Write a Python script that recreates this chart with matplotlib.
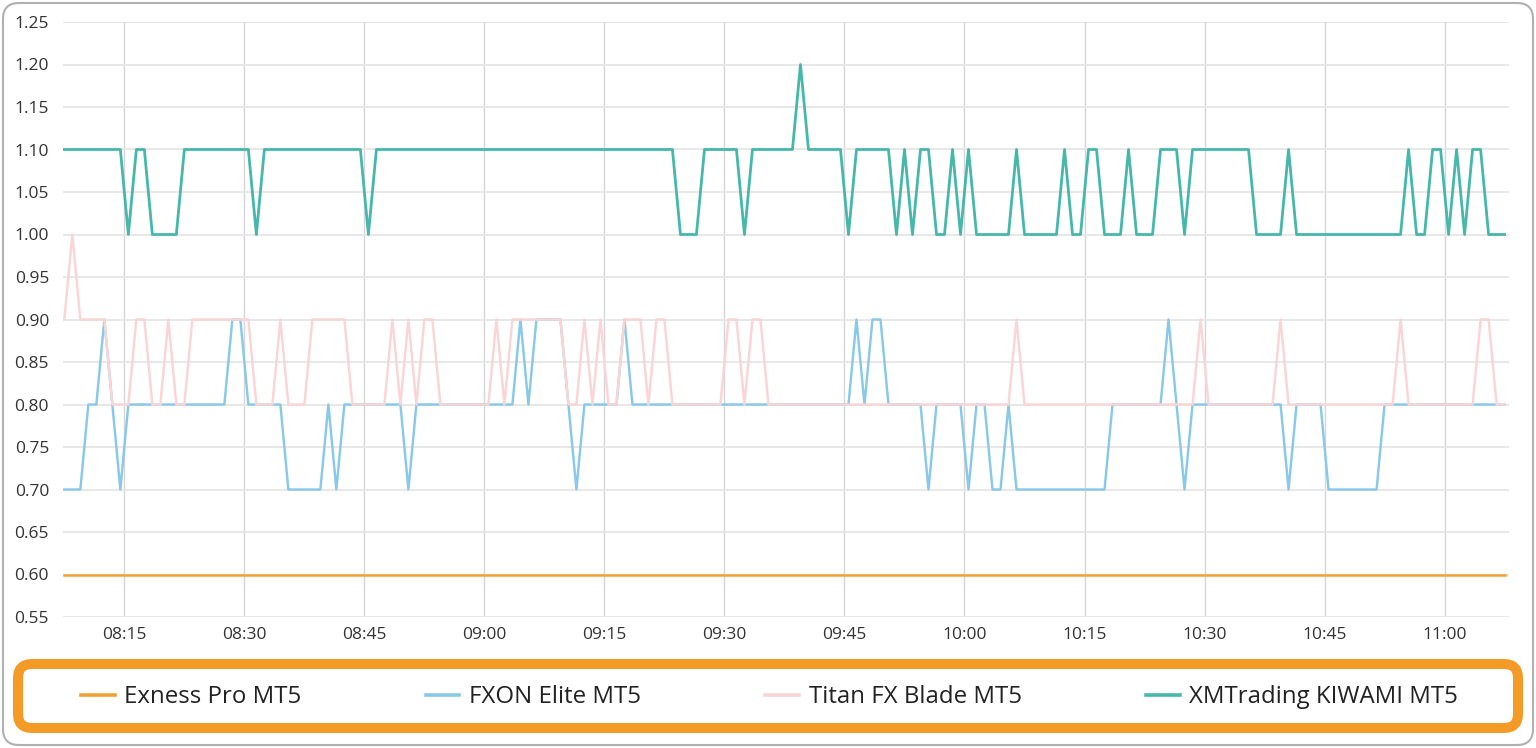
import matplotlib

matplotlib.use("Agg")
import matplotlib.dates as mdates
import matplotlib.pyplot as plt
import pandas as pd
from matplotlib.lines import Line2D
from matplotlib.patches import FancyBboxPatch
from matplotlib.transforms import IdentityTransform

plt.rcParams["font.family"] = ["Open Sans", "DejaVu Sans"]

# one sample per minute, first at 08:07:30
START = "2024-01-01 08:07:30"
NAMES = ["Exness Pro MT5", "FXON Elite MT5", "Titan FX Blade MT5", "XMTrading KIWAMI MT5"]
COLORS = ["#f4a035", "#89c9e8", "#f9d5d6", "#46b8ab"]

exness = [
    .6, .6, .6, .6, .6, .6, .6, .6, .6, .6, .6, .6, .6, .6, .6,
    .6, .6, .6, .6, .6, .6, .6, .6, .6, .6, .6, .6, .6, .6, .6,
    .6, .6, .6, .6, .6, .6, .6, .6, .6, .6, .6, .6, .6, .6, .6,
    .6, .6, .6, .6, .6, .6, .6, .6, .6, .6, .6, .6, .6, .6, .6,
    .6, .6, .6, .6, .6, .6, .6, .6, .6, .6, .6, .6, .6, .6, .6,
    .6, .6, .6, .6, .6, .6, .6, .6, .6, .6, .6, .6, .6, .6, .6,
    .6, .6, .6, .6, .6, .6, .6, .6, .6, .6, .6, .6, .6, .6, .6,
    .6, .6, .6, .6, .6, .6, .6, .6, .6, .6, .6, .6, .6, .6, .6,
    .6, .6, .6, .6, .6, .6, .6, .6, .6, .6, .6, .6, .6, .6, .6,
    .6, .6, .6, .6, .6, .6, .6, .6, .6, .6, .6, .6, .6, .6, .6,
    .6, .6, .6, .6, .6, .6, .6, .6, .6, .6, .6, .6, .6, .6, .6,
    .6, .6, .6, .6, .6, .6, .6, .6, .6, .6, .6, .6, .6, .6, .6,
    .6,
]
fxon = [
    .7, .7, .7, .8, .8, .9, .8, .7, .8, .8, .8, .8, .8, .8, .8,
    .8, .8, .8, .8, .8, .8, .9, .9, .8, .8, .8, .8, .8, .7, .7,
    .7, .7, .7, .8, .7, .8, .8, .8, .8, .8, .8, .8, .8, .7, .8,
    .8, .8, .8, .8, .8, .8, .8, .8, .8, .8, .8, .8, .9, .8, .9,
    .9, .9, .9, .8, .7, .8, .8, .8, .8, .8, .9, .8, .8, .8, .8,
    .8, .8, .8, .8, .8, .8, .8, .8, .8, .8, .8, .8, .8, .8, .8,
    .8, .8, .8, .8, .8, .8, .8, .8, .8, .9, .8, .9, .9, .8, .8,
    .8, .8, .8, .7, .8, .8, .8, .8, .7, .8, .8, .7, .7, .8, .7,
    .7, .7, .7, .7, .7, .7, .7, .7, .7, .7, .7, .8, .8, .8, .8,
    .8, .8, .8, .9, .8, .7, .8, .8, .8, .8, .8, .8, .8, .8, .8,
    .8, .8, .8, .7, .8, .8, .8, .8, .7, .7, .7, .7, .7, .7, .7,
    .8, .8, .8, .8, .8, .8, .8, .8, .8, .8, .8, .8, .8, .8, .8,
    .8,
]
titan = [
    .9, 1., .9, .9, .9, .9, .8, .8, .8, .9, .9, .8, .8, .9, .8,
    .8, .9, .9, .9, .9, .9, .9, .9, .9, .8, .8, .8, .9, .8, .8,
    .8, .9, .9, .9, .9, .9, .8, .8, .8, .8, .8, .9, .8, .9, .8,
    .9, .9, .8, .8, .8, .8, .8, .8, .8, .9, .8, .9, .9, .9, .9,
    .9, .9, .9, .8, .8, .9, .8, .9, .8, .8, .9, .9, .9, .8, .9,
    .9, .8, .8, .8, .8, .8, .8, .8, .9, .9, .8, .9, .9, .8, .8,
    .8, .8, .8, .8, .8, .8, .8, .8, .8, .8, .8, .8, .8, .8, .8,
    .8, .8, .8, .8, .8, .8, .8, .8, .8, .8, .8, .8, .8, .8, .9,
    .8, .8, .8, .8, .8, .8, .8, .8, .8, .8, .8, .8, .8, .8, .8,
    .8, .8, .8, .8, .8, .8, .8, .9, .8, .8, .8, .8, .8, .8, .8,
    .8, .8, .9, .8, .8, .8, .8, .8, .8, .8, .8, .8, .8, .8, .8,
    .8, .8, .9, .8, .8, .8, .8, .8, .8, .8, .8, .8, .9, .9, .8,
    .8,
]
xm = [
    1.1, 1.1, 1.1, 1.1, 1.1, 1.1, 1.1, 1.1, 1.0, 1.1, 1.1, 1.0, 1.0, 1.0, 1.0,
    1.1, 1.1, 1.1, 1.1, 1.1, 1.1, 1.1, 1.1, 1.1, 1.0, 1.1, 1.1, 1.1, 1.1, 1.1,
    1.1, 1.1, 1.1, 1.1, 1.1, 1.1, 1.1, 1.1, 1.0, 1.1, 1.1, 1.1, 1.1, 1.1, 1.1,
    1.1, 1.1, 1.1, 1.1, 1.1, 1.1, 1.1, 1.1, 1.1, 1.1, 1.1, 1.1, 1.1, 1.1, 1.1,
    1.1, 1.1, 1.1, 1.1, 1.1, 1.1, 1.1, 1.1, 1.1, 1.1, 1.1, 1.1, 1.1, 1.1, 1.1,
    1.1, 1.1, 1.0, 1.0, 1.0, 1.1, 1.1, 1.1, 1.1, 1.1, 1.0, 1.1, 1.1, 1.1, 1.1,
    1.1, 1.1, 1.2, 1.1, 1.1, 1.1, 1.1, 1.1, 1.0, 1.1, 1.1, 1.1, 1.1, 1.1, 1.0,
    1.1, 1.0, 1.1, 1.1, 1.0, 1.0, 1.1, 1.0, 1.1, 1.0, 1.0, 1.0, 1.0, 1.0, 1.1,
    1.0, 1.0, 1.0, 1.0, 1.0, 1.1, 1.0, 1.0, 1.1, 1.1, 1.0, 1.0, 1.0, 1.1, 1.0,
    1.0, 1.0, 1.1, 1.1, 1.1, 1.0, 1.1, 1.1, 1.1, 1.1, 1.1, 1.1, 1.1, 1.1, 1.0,
    1.0, 1.0, 1.0, 1.1, 1.0, 1.0, 1.0, 1.0, 1.0, 1.0, 1.0, 1.0, 1.0, 1.0, 1.0,
    1.0, 1.0, 1.0, 1.1, 1.0, 1.0, 1.1, 1.1, 1.0, 1.1, 1.0, 1.1, 1.1, 1.0, 1.0,
    1.0,
]
Y_TICKS = [0.55, 0.60, 0.65, 0.70, 0.75, 0.80, 0.85, 0.90, 0.95, 1.00, 1.05, 1.10, 1.15, 1.20, 1.25]

W, H = 1536, 748
fig = plt.figure(figsize=(W / 100, H / 100), dpi=100)
fig.patch.set_facecolor("white")
ax = fig.add_axes([63 / W, (H - 617) / H, (1509 - 63) / W, (617 - 22) / H])

times = pd.date_range(START, periods=len(xm), freq="min")
widths = [1.8, 1.75, 1.75, 2.0]
for vals, c, lw, name in zip([exness, fxon, titan, xm], COLORS, widths, NAMES):
    ax.plot(times, vals, color=c, lw=lw, label=name)

ax.set_xlim(times[0] - pd.Timedelta(seconds=10), times[-1] + pd.Timedelta(seconds=33))
ax.set_ylim(0.55, 1.25)
ax.set_yticks(Y_TICKS)
ax.set_yticklabels([f"{v:.2f}" for v in Y_TICKS])
ax.xaxis.set_major_locator(mdates.MinuteLocator(byminute=[0, 15, 30, 45]))
ax.xaxis.set_major_formatter(mdates.DateFormatter("%H:%M"))
ax.set_axisbelow(True)
ax.grid(axis="y", color="#e6e6e6", lw=1.3)
ax.grid(axis="x", color="#d6d6d6", lw=1.0)
for s in ax.spines.values():
    s.set_visible(False)
ax.tick_params(length=0, labelsize=12.5, labelcolor="#333333")
ax.tick_params(axis="x", pad=7)
ax.tick_params(axis="y", pad=10)

# outer card and the orange legend box, in pixel coords
ident = IdentityTransform()
fig.add_artist(FancyBboxPatch((3, 3), W - 6, H - 6, boxstyle="round,pad=0,rounding_size=16",
                              transform=ident, fc="none", ec="#b0b0b0", lw=1.5, zorder=-5))
fig.add_artist(FancyBboxPatch((18, H - 728), W - 36, 64, boxstyle="round,pad=0,rounding_size=14",
                              transform=ident, fc="white", ec="#f39b26", lw=7.2, zorder=1))

handles = [Line2D([], [], color=c, lw=2.6) for c in COLORS]
fig.legend(handles, NAMES, loc="center", ncol=4, mode="expand",
           bbox_to_anchor=(81, H - 707, 1458 - 81, 20), bbox_transform=ident,
           frameon=False, borderpad=0, borderaxespad=0, fontsize=17.3,
           handlelength=1.4, handletextpad=0.4, labelcolor="#222222")

fig.savefig("out.png", dpi=100)
